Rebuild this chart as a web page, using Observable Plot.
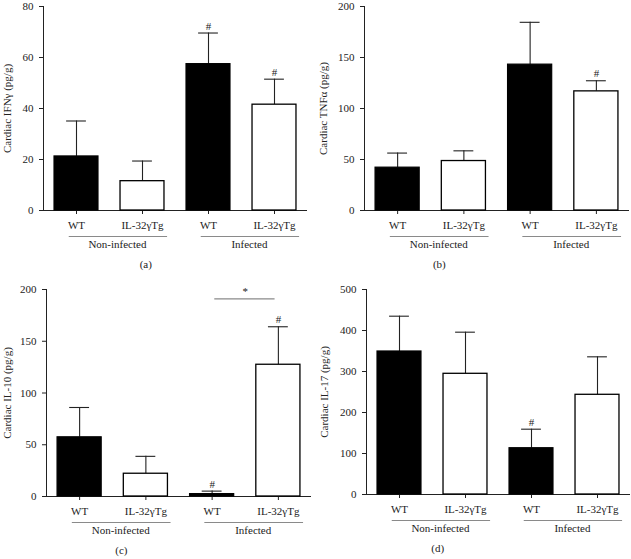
<!DOCTYPE html>
<html>
<head>
<meta charset="utf-8">
<script src="https://cdn.jsdelivr.net/npm/d3@7"></script>
<script src="https://cdn.jsdelivr.net/npm/@observablehq/plot@0.6"></script>
<style>
  html, body { margin: 0; padding: 0; background: #fff; }
  #grid { display: flex; flex-wrap: wrap; width: 631px; }
  #grid svg { display: block; }
</style>
</head>
<body>
<div id="grid"></div>
<script>
// ---- data ----
const genotypes = ["WT", "IL-32γTg", "WT", "IL-32γTg"];
const groups = ["Non-infected", "Infected"];

const ifngMean = [21.2, 11.5, 57.4, 41.5];
const ifngSEM  = [13.9, 7.9, 12.2, 10.0];
const ifngSig  = ["", "", "#", "#"];
const ifngTicks = [0, 20, 40, 60, 80];

const tnfMean = [42.0, 48.5, 143.0, 116.8];
const tnfSEM  = [14.3, 10.0, 41.5, 10.4];
const tnfSig  = ["", "", "", "#"];
const tnfTicks = [0, 50, 100, 150, 200];

const il10Mean = [57.2, 22.0, 2.3, 127.3];
const il10SEM  = [28.8, 16.8, 2.9, 36.7];
const il10Sig  = ["", "", "#", "#"];
const il10Ticks = [0, 50, 100, 150, 200];
const il10Bracket = [{from: 2, to: 3, y: 191, label: "*"}];

const il17Mean = [348.8, 294.4, 112.9, 243.2];
const il17SEM  = [86.1, 101.5, 46.4, 92.6];
const il17Sig  = ["", "", "#", ""];
const il17Ticks = [0, 100, 200, 300, 400, 500];

// ---- layout ----
const panels = [
  {mean: ifngMean, sem: ifngSEM, sig: ifngSig, ticks: ifngTicks, label: "Cardiac IFNγ (pg/g)", tag: "(a)", tagX: 1.05,
   width: 315, height: 280, ml: 43, mr: 8, mt: 6, mb: 70, labelOffset: 40},
  {mean: tnfMean, sem: tnfSEM, sig: tnfSig, ticks: tnfTicks, label: "Cardiac TNFα (pg/g)", tag: "(b)", tagX: 0.63,
   width: 316, height: 280, ml: 49, mr: 2, mt: 6, mb: 70, labelOffset: 45},
  {mean: il10Mean, sem: il10SEM, sig: il10Sig, ticks: il10Ticks, label: "Cardiac IL-10 (pg/g)", tag: "(c)", tagX: 0.63,
   width: 315, height: 279, ml: 46, mr: 4, mt: 9, mb: 63, labelOffset: 43, bracket: il10Bracket},
  {mean: il17Mean, sem: il17SEM, sig: il17Sig, ticks: il17Ticks, label: "Cardiac IL-17 (pg/g)", tag: "(d)", tagX: 0.58,
   width: 316, height: 279, ml: 51, mr: 1, mt: 9, mb: 65, labelOffset: 46}
];

const ink = "#222";
const grey = "#8a8a8a";

function panel(p) {
  const idx = p.mean.map((_, i) => i);
  const ymax = p.ticks[p.ticks.length - 1];
  const marks = [
    Plot.axisY(p.ticks, {tickSize: 4, tickPadding: 6, stroke: ink, label: p.label, labelAnchor: "center",
      labelArrow: "none", labelOffset: p.labelOffset, fontSize: 11}),
    Plot.axisX(idx, {tickSize: 4, tickPadding: 7, stroke: ink, tickFormat: i => genotypes[i], label: null, fontSize: 11}),
    Plot.frame({anchor: "left", stroke: ink}),
    Plot.ruleY([0], {stroke: ink}),
    // error bars (upper only)
    Plot.ruleX(idx, {x: i => i, y1: i => p.mean[i], y2: i => p.mean[i] + p.sem[i], stroke: ink, strokeWidth: 1.1}),
    Plot.ruleY(idx, {y: i => p.mean[i] + p.sem[i], x1: i => i - 0.15, x2: i => i + 0.15, stroke: ink, strokeWidth: 1.1}),
    // bars
    Plot.rect(idx.filter(i => i % 2 === 0), {x1: i => i - 0.333, x2: i => i + 0.333, y1: 0, y2: i => p.mean[i], fill: "black", stroke: "black", strokeWidth: 1.2}),
    Plot.rect(idx.filter(i => i % 2 === 1), {x1: i => i - 0.333, x2: i => i + 0.333, y1: 0, y2: i => p.mean[i], fill: "white", stroke: "black", strokeWidth: 1.3}),
    // significance markers
    Plot.text(idx.filter(i => p.sig[i]), {x: i => i, y: i => p.mean[i] + p.sem[i], text: i => p.sig[i], dy: -7, fontSize: 11, fill: ink}),
    // group underlines and labels
    Plot.ruleY(groups, {y: () => 0, x1: (d, i) => 2 * i - 0.11, x2: (d, i) => 2 * i + 1.38, dy: 26, stroke: grey}),
    Plot.text(groups, {x: (d, i) => 2 * i + 0.62, frameAnchor: "bottom", dy: 37, text: d => d, fontSize: 11, fill: ink}),
    Plot.text([p.tag], {x: () => p.tagX, frameAnchor: "bottom", dy: 57, text: d => d, fontSize: 11, fill: ink})
  ];
  if (p.bracket) {
    marks.push(Plot.ruleY(p.bracket, {y: d => d.y, x1: d => d.from + 0.04, x2: d => d.to - 0.05, stroke: grey, strokeWidth: 1.2}));
    marks.push(Plot.text(p.bracket, {x: d => (d.from + d.to) / 2, y: d => d.y, text: d => d.label, dy: -7, fontSize: 11, fill: ink}));
  }
  return Plot.plot({
    width: p.width, height: p.height,
    marginLeft: p.ml, marginRight: p.mr, marginTop: p.mt, marginBottom: p.mb,
    x: {type: "linear", domain: [-0.5, 3.5]},
    y: {domain: [0, ymax]},
    style: {fontFamily: "'Liberation Serif', 'DejaVu Serif', serif", fontSize: "11px", background: "white", color: ink, overflow: "visible"},
    marks
  });
}

const grid = document.getElementById("grid");
panels.forEach(p => grid.appendChild(panel(p)));
</script>
</body>
</html>
